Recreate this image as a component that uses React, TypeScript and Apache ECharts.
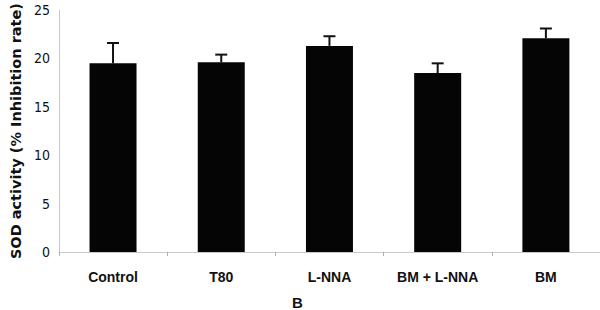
import React, { useEffect, useRef } from "react";
import * as echarts from "echarts";

const categories = ["Control", "T80", "L-NNA", "BM + L-NNA", "BM"];
const means = [19.5, 19.6, 21.3, 18.5, 22.1];
const errors = [2.1, 0.8, 1.0, 1.0, 1.0];
const yTicks = { min: 0, max: 25, interval: 5 };
const yTitle = "SOD activity (% Inhibition rate)";
const panelLabel = "B";

const SANS = '"Liberation Sans", Arial, sans-serif';
const COND = '"DejaVu Sans Condensed", "Liberation Sans", sans-serif';

export default function App() {
  const ref = useRef<HTMLDivElement>(null);
  useEffect(() => {
    document.body.style.margin = "0";
    const chart = echarts.init(ref.current!, null, { renderer: "svg" });
    const errData = means.map((m, i) => [i, m, m + errors[i]]);
    chart.setOption({
      animation: false,
      backgroundColor: "#ffffff",
      grid: { left: 48, top: 9.5, width: 565, height: 242.5 },
      xAxis: {
        type: "category",
        data: categories,
        axisLine: { lineStyle: { color: "#c8c8c8", width: 1 } },
        axisTick: { show: true, length: 4, lineStyle: { color: "#b0b0b0" } },
        axisLabel: {
          interval: 0,
          color: "#111",
          fontFamily: SANS,
          fontWeight: "bold",
          fontSize: 14,
          margin: 18,
        },
      },
      yAxis: {
        type: "value",
        min: yTicks.min,
        max: yTicks.max,
        interval: yTicks.interval,
        axisLine: { show: true, lineStyle: { color: "#c8c8c8" } },
        axisTick: { show: false },
        splitLine: { show: false },
        axisLabel: {
          color: "#111",
          fontFamily: COND,
          fontSize: 14,
          margin: 9,
        },
        name: yTitle,
        nameLocation: "middle",
        nameRotate: 90,
        nameGap: 33,
        nameTextStyle: {
          color: "#111",
          fontFamily: '"DejaVu Sans", sans-serif',
          fontWeight: "bold",
          fontSize: 14.5,
        },
      },
      graphic: [
        {
          type: "text",
          left: 292,
          top: 295,
          style: {
            text: panelLabel,
            fill: "#111",
            font: 'bold 15px "Liberation Sans", Arial, sans-serif',
          },
        },
      ],
      series: [
        {
          type: "bar",
          data: means,
          barWidth: 47,
          itemStyle: { color: "#050505" },
          z: 2,
        },
        {
          type: "custom",
          data: errData,
          z: 3,
          renderItem: (params: any, api: any) => {
            const idx = api.value(0);
            const base = api.coord([idx, api.value(1)]);
            const top = api.coord([idx, api.value(2)]);
            const half = 6;
            return {
              type: "group",
              children: [
                {
                  type: "line",
                  shape: { x1: base[0], y1: base[1], x2: top[0], y2: top[1] },
                  style: { stroke: "#111", lineWidth: 2 },
                },
                {
                  type: "line",
                  shape: { x1: top[0] - half, y1: top[1], x2: top[0] + half, y2: top[1] },
                  style: { stroke: "#111", lineWidth: 2 },
                },
              ],
            };
          },
        },
      ],
    });
    return () => chart.dispose();
  }, []);
  return <div ref={ref} style={{ width: 600, height: 310 }} />;
}
